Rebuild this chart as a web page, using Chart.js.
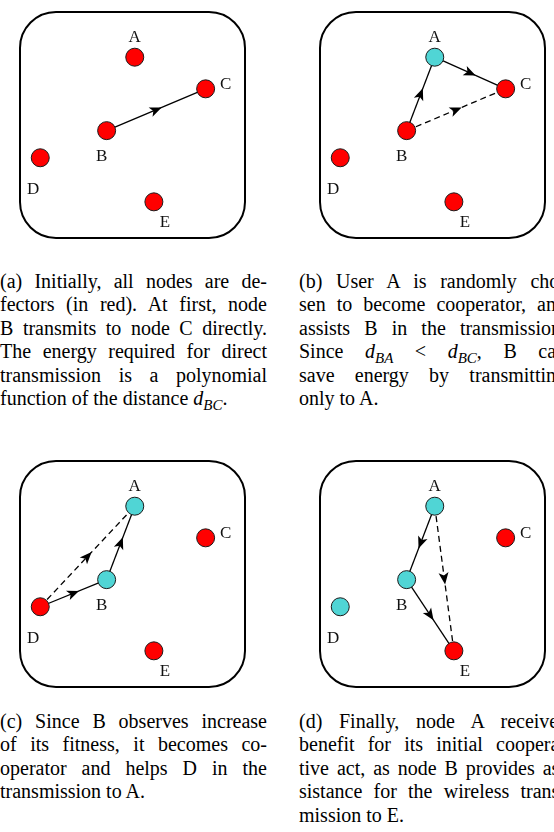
<!DOCTYPE html>
<html><head><meta charset="utf-8">
<script src="https://cdn.jsdelivr.net/npm/chart.js@4/dist/chart.umd.min.js"></script>
<style>
html,body{margin:0;padding:0;width:554px;height:832px;overflow:hidden;background:#fff;}
.panel{position:absolute;}
.cap{position:absolute;width:267px;font-family:"Liberation Serif","Times New Roman",serif;font-size:20px;line-height:23.4px;color:#000;}
.cap div{text-align:justify;text-align-last:justify;}
.cap div.last{text-align-last:left;}
.cap sub{font-size:75%;line-height:0;vertical-align:-0.3em;}
</style></head>
<body>
<div class="panel" id="pa"><canvas id="ca" width="245" height="246"></canvas></div>
<div class="panel" id="pb"><canvas id="cb" width="245" height="246"></canvas></div>
<div class="panel" id="pc"><canvas id="cc" width="245" height="246"></canvas></div>
<div class="panel" id="pd"><canvas id="cd" width="245" height="246"></canvas></div>

<div class="cap" style="left:0px;top:270px">
<div>(a) Initially, all nodes are de-</div>
<div>fectors (in red). At first, node</div>
<div>B transmits to node C directly.</div>
<div>The energy required for direct</div>
<div>transmission is a polynomial</div>
<div class="last">function of the distance <i>d</i><sub><i>BC</i></sub>.</div>
</div>
<div class="cap" style="left:299px;top:270px">
<div>(b) User A is randomly cho-</div>
<div>sen to become cooperator, and</div>
<div>assists B in the transmission.</div>
<div>Since <i>d</i><sub><i>BA</i></sub> &lt; <i>d</i><sub><i>BC</i></sub>, B can</div>
<div>save energy by transmitting</div>
<div class="last">only to A.</div>
</div>
<div class="cap" style="left:0px;top:710px">
<div>(c) Since B observes increase</div>
<div>of its fitness, it becomes co-</div>
<div>operator and helps D in the</div>
<div class="last">transmission to A.</div>
</div>
<div class="cap" style="left:299px;top:710px">
<div>(d) Finally, node A receives</div>
<div>benefit for its initial coopera-</div>
<div>tive act, as node B provides as-</div>
<div>sistance for the wireless trans-</div>
<div class="last">mission to E.</div>
</div>

<script>
// ---- data ----
const nodeNames = ['A', 'B', 'C', 'D', 'E'];
const nodeX = [51, 38.5, 82.5, 9, 59.5];
const nodeY = [80, 47.5, 66, 35.5, 16];
const panelIds = ['a', 'b', 'c', 'd'];
const cooperatorsA = [];
const cooperatorsB = ['A'];
const cooperatorsC = ['A', 'B'];
const cooperatorsD = ['A', 'B', 'D'];
const edgesA = [['B', 'C', 'solid']];
const edgesB = [['B', 'A', 'solid'], ['A', 'C', 'solid'], ['B', 'C', 'dashed']];
const edgesC = [['D', 'B', 'solid'], ['B', 'A', 'solid'], ['D', 'A', 'dashed']];
const edgesD = [['A', 'B', 'solid'], ['B', 'E', 'solid'], ['A', 'E', 'dashed']];

// ---- styling / layout ----
const DEFECTOR = '#ff0000';
const COOPERATOR = '#50d5d5';
const panelPos = { a: [10, 2], b: [310, 2], c: [10, 451], d: [310, 451] };
const labelOffset = { A: [0, -20], B: [-5, 26], C: [20, -4], D: [-7, 32], E: [11, 21] };
const coopByPanel = { a: cooperatorsA, b: cooperatorsB, c: cooperatorsC, d: cooperatorsD };
const edgesByPanel = { a: edgesA, b: edgesB, c: edgesC, d: edgesD };

function idx(n) { return nodeNames.indexOf(n); }

const framePlugin = {
  id: 'frame',
  beforeDatasetsDraw(chart) {
    const a = chart.chartArea, ctx = chart.ctx;
    ctx.save();
    ctx.strokeStyle = '#000';
    ctx.lineWidth = 2;
    ctx.beginPath();
    ctx.roundRect(a.left, a.top, a.right - a.left, a.bottom - a.top, 36);
    ctx.stroke();
    ctx.restore();
  }
};

const arrowLabelPlugin = {
  id: 'arrowsLabels',
  afterDatasetsDraw(chart) {
    const ctx = chart.ctx, xs = chart.scales.x, ys = chart.scales.y;
    const edges = chart.options.plugins.arrowsLabels.edges;
    ctx.save();
    ctx.fillStyle = '#000';
    edges.forEach(e => {
      const i = idx(e[0]), j = idx(e[1]);
      const x1 = xs.getPixelForValue(nodeX[i]), y1 = ys.getPixelForValue(nodeY[i]);
      const x2 = xs.getPixelForValue(nodeX[j]), y2 = ys.getPixelForValue(nodeY[j]);
      const len = Math.hypot(x2 - x1, y2 - y1);
      const t = 0.5 + 6 / len;
      const tx = x1 + (x2 - x1) * t, ty = y1 + (y2 - y1) * t;
      const ang = Math.atan2(y2 - y1, x2 - x1);
      ctx.save();
      ctx.translate(tx, ty);
      ctx.rotate(ang);
      ctx.beginPath();
      ctx.moveTo(0, 0);
      ctx.lineTo(-12, -5);
      ctx.lineTo(-9, 0);
      ctx.lineTo(-12, 5);
      ctx.closePath();
      ctx.fill();
      ctx.restore();
    });
    ctx.font = '17px "Liberation Serif", serif';
    ctx.fillStyle = '#111';
    ctx.textAlign = 'center';
    ctx.textBaseline = 'middle';
    nodeNames.forEach((n, i) => {
      const px = xs.getPixelForValue(nodeX[i]), py = ys.getPixelForValue(nodeY[i]);
      ctx.fillText(n, px + labelOffset[n][0], py + labelOffset[n][1]);
    });
    ctx.restore();
  }
};

panelIds.forEach(p => {
  const box = document.getElementById('p' + p);
  box.style.left = panelPos[p][0] + 'px';
  box.style.top = panelPos[p][1] + 'px';
  const coop = coopByPanel[p];
  const datasets = [{
    type: 'scatter',
    data: nodeNames.map((n, i) => ({ x: nodeX[i], y: nodeY[i] })),
    pointRadius: 9,
    pointHoverRadius: 9,
    pointBackgroundColor: nodeNames.map(n => coop.includes(n) ? COOPERATOR : DEFECTOR),
    pointBorderColor: '#1a1a1a',
    pointBorderWidth: 1,
    order: 0
  }];
  edgesByPanel[p].forEach(e => {
    const i = idx(e[0]), j = idx(e[1]);
    datasets.push({
      type: 'line',
      data: [{ x: nodeX[i], y: nodeY[i] }, { x: nodeX[j], y: nodeY[j] }],
      borderColor: '#000',
      borderWidth: 1.3,
      borderDash: e[2] === 'dashed' ? [6, 4] : [],
      pointRadius: 0,
      fill: false,
      order: 1
    });
  });
  new Chart(document.getElementById('c' + p), {
    type: 'scatter',
    data: { datasets },
    options: {
      responsive: false,
      animation: false,
      events: [],
      layout: { padding: 2 },
      scales: {
        x: { type: 'linear', min: 0, max: 100, display: false },
        y: { type: 'linear', min: 0, max: 100, display: false }
      },
      plugins: {
        legend: { display: false },
        tooltip: { enabled: false },
        arrowsLabels: { edges: edgesByPanel[p] }
      }
    },
    plugins: [framePlugin, arrowLabelPlugin]
  });
});
</script>
</body></html>
